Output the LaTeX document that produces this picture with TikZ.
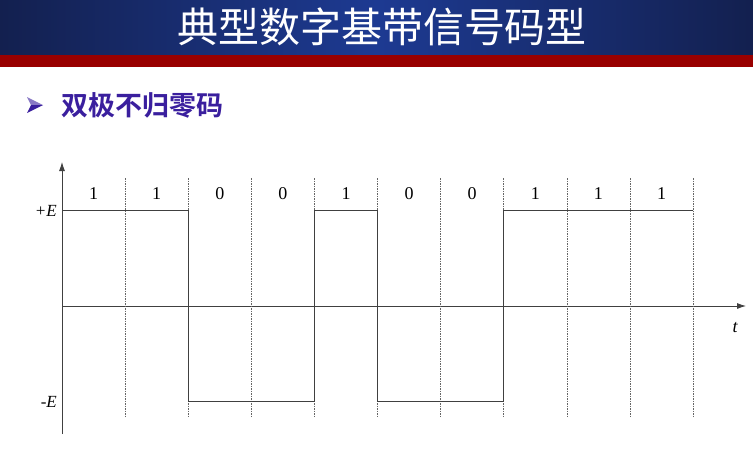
\documentclass[tikz,border=0pt]{standalone}
\usepackage{fontspec}
\setmainfont{Liberation Serif}
\newfontfamily\cjk{Noto Sans CJK SC}[BoldFont={Noto Sans CJK SC Bold}]
\usepackage{tikz}
\usetikzlibrary{calc,arrows.meta}
\definecolor{navyedge}{HTML}{13204F}
\definecolor{navymid}{HTML}{1D3A92}
\definecolor{bandred}{HTML}{990000}
\definecolor{subblue}{HTML}{3A1F9E}
\definecolor{axisgray}{HTML}{404040}
\tikzset{
  axisline/.style={draw=axisgray,line width=0.8pt,-{Latex[length=9pt,width=6pt]}},
  bitline/.style={draw=axisgray!80,line width=0.6pt,dash pattern=on 1.5pt off 1pt},
  wave/.style={draw=axisgray,line width=0.9pt},
  bitlabel/.style={font=\fontsize{18}{18}\selectfont,inner sep=0pt},
  levellabel/.style={font=\fontsize{17}{17}\selectfont\itshape,inner sep=0pt,anchor=east}
}
\begin{document}
\begin{tikzpicture}[x=1pt,y=-1pt]
              \useasboundingbox (0,0) rectangle (753,475);
              % header
              \shade[left color=navyedge,right color=navyedge,middle color=navymid] (0,0) rectangle (753,55);
              \fill[bandred] (0,55) rectangle (753,67);
              \node[text=white,font=\cjk\fontsize{41}{41}\selectfont](title)at(382,27){典型数字基带信号码型};
              \fill[subblue!60!white] (27,97) -- (43,105) -- (31,105) -- cycle;
              \fill[subblue] (27,113) -- (43,105) -- (31,105) -- cycle;
              \node[text=subblue,anchor=west,font=\cjk\bfseries\fontsize{27}{27}\selectfont,inner sep=0pt](sub)at(61,105){双极不归零码};
              % axes
              \coordinate (o) at (62,306);
              \draw[axisline] (62,434) -- (62,162);
              \draw[axisline] (o) -- (746,306);
              \node[levellabel](pe)at(57,211){+E};
              \node[levellabel](me)at(57,402){-E};
              \node[font=\fontsize{18}{18}\selectfont\itshape](t)at(735,328){t};
              % bit cells
              \foreach \i in {1,...,10}
                \draw[bitline] ({62+63.1*\i},178) -- ({62+63.1*\i},416);
              \foreach \b [count=\i] in {1,1,0,0,1,0,0,1,1,1}
                \node[bitlabel](bit\i)at({62+63.1*\i-31.5},194){\b};
              % signal
              \draw[wave] (62,210) -- (188,210) -- (188,401) -- (314,401) -- (314,210)
                -- (377,210) -- (377,401) -- (503,401) -- (503,210) -- (693,210);
            \end{tikzpicture}
\end{document}
